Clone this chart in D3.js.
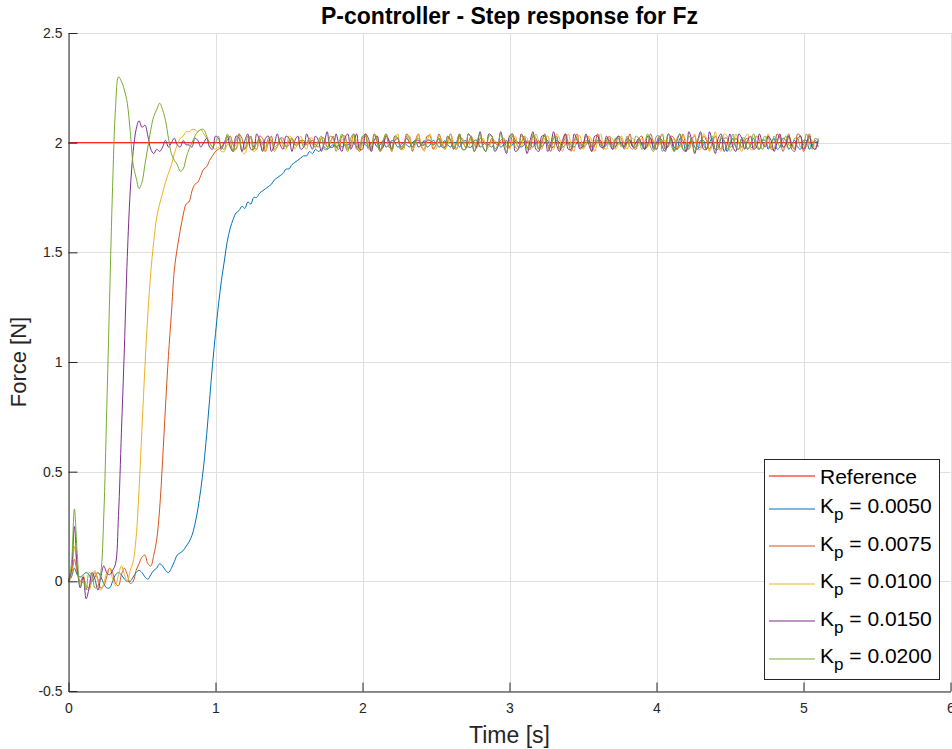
<!DOCTYPE html>
<html><head><meta charset="utf-8">
<script src="https://cdn.jsdelivr.net/npm/d3@7"></script>
<style>
html,body{margin:0;padding:0;background:#fff;}
svg{display:block;font-family:"Liberation Sans",Arial,Helvetica,sans-serif;}
</style></head><body>
<svg id="chart" width="952" height="749"></svg>
<script>
// ---------------- data ----------------
const sampleStep = 0.02; // seconds between samples
const xTicks = [0, 1, 2, 3, 4, 5, 6];
const xTickLabels = ["0", "1", "2", "3", "4", "5", "6"];
const yTicks = [-0.5, 0, 0.5, 1, 1.5, 2, 2.5];
const yTickLabels = ["-0.5", "0", "0.5", "1", "1.5", "2", "2.5"];
const legendNames = ["Reference", "0.0050", "0.0075", "0.0100", "0.0150", "0.0200"];
const referenceTime = [0, 5.1];
const referenceForce = [2, 2];

const kp0050 = [
0,0.02,0.06,0.03,0.02,0.03,0.04,0.03,0.00,0.02,
0.04,0.02,-0.01,-0.03,-0.03,0.00,0.03,0.04,0.03,0.01,
0.00,0.00,0.02,0.04,0.05,0.04,0.02,0.01,0.03,0.05,
0.06,0.08,0.07,0.05,0.04,0.06,0.09,0.12,0.13,0.14,
0.16,0.18,0.21,0.26,0.33,0.42,0.53,0.67,0.83,0.99,
1.13,1.26,1.37,1.46,1.55,1.61,1.65,1.68,1.69,1.71,
1.70,1.73,1.72,1.75,1.75,1.77,1.78,1.79,1.80,1.81,
1.83,1.84,1.85,1.86,1.88,1.88,1.90,1.91,1.92,1.93,
1.94,1.94,1.96,1.95,1.97,1.96,1.97,1.98,1.97,1.98,
1.99,1.98,1.99,1.98,1.99,1.99,
2.00,2.00,1.98,1.99,2.00,1.99,1.98,
2.00,2.00,1.98,1.99,2.01,1.98,1.99,
2.01,2.00,1.98,1.99,2.00,1.99,1.98,
2.00,2.01,1.98,1.99,2.01,1.98,1.99,
2.01,2.00,1.98,1.99,2.01,1.99,1.98,
2.00,2.00,1.98,2.00,2.01,1.98,1.98,
2.01,2.01,1.98,1.99,2.00,1.99,1.98,
2.00,2.00,1.98,1.99,2.01,1.98,1.99,
2.01,2.00,1.98,1.99,2.01,1.99,1.98,
2.00,2.01,1.98,2.00,2.01,1.98,1.98,
2.01,2.00,1.98,1.99,2.00,1.99,1.98,
2.00,2.00,1.98,1.99,2.01,1.98,1.99,
2.01,2.01,1.98,1.99,2.01,1.99,1.98,
2.00,2.00,1.98,2.00,2.01,1.98,1.98,
2.01,2.00,1.97,1.99,2.02,1.98,1.97,
2.02,2.01,1.97,1.99,2.02,1.98,1.97,
2.02,2.01,1.96,1.99,2.02,1.98,1.97,
2.01,2.01,1.97,2.00,2.02,1.97,1.97,
2.02,2.01,1.96,1.99,2.02,1.98,1.97,
2.02,2.00,1.97,1.99,2.02,1.98,1.97,
2.01,2.01,1.97,2.00,2.02,1.97,1.98,
2.02,2.01,1.97,1.99,2.01,1.98,1.97,
2.01,2.01,1.97,1.99,2.01,1.98
];

const kp0075 = [
0,0.03,0.10,0.04,0.00,0.02,-0.02,-0.03,0.01,0.04,
0.01,-0.03,-0.02,0.02,0.06,0.04,-0.01,-0.02,0.03,0.06,
0.03,-0.01,0.00,0.05,0.08,0.11,0.12,0.08,0.07,0.12,
0.19,0.33,0.55,0.80,1.03,1.22,1.42,1.52,1.60,1.67,
1.72,1.73,1.78,1.81,1.82,1.85,1.88,1.89,1.92,1.94,
1.96,1.97,1.98,2.00,2.01,2.03,1.99,
1.97,2.04,2.02,1.97,2.00,2.03,1.98,
1.97,2.03,2.02,1.96,2.00,2.03,1.97,
1.98,2.02,2.02,1.98,1.99,2.02,1.99,
1.99,2.01,2.01,1.99,2.00,2.01,1.99,
1.98,2.02,2.02,1.98,2.00,2.03,1.98,
1.97,2.03,2.03,1.97,1.99,2.04,1.98,
1.96,2.02,2.04,1.98,1.97,2.04,2.00,
1.96,2.00,2.04,2.00,1.96,2.03,2.02,
1.97,1.98,2.04,2.02,1.96,2.01,2.04,
1.98,1.97,2.03,2.03,1.97,1.99,2.04,
2.00,1.97,2.01,2.04,1.98,1.97,2.03,
2.01,1.98,2.00,2.03,1.99,1.98,2.02,
2.01,1.99,1.99,2.02,2.00,1.99,2.01,
2.02,1.98,1.98,2.03,2.01,1.98,2.00,
2.03,1.98,1.97,2.03,2.02,1.97,2.00,
2.04,1.99,1.96,2.02,2.03,1.97,1.99,
2.04,2.00,1.96,2.01,2.04,1.98,1.98,
2.03,2.02,1.96,1.99,2.04,2.00,1.97,
2.01,2.03,1.97,1.98,2.03,2.02,1.97,
2.00,2.04,1.98,1.97,2.02,2.03,1.97,
1.99,2.04,2.00,1.97,2.01,2.04,1.98,
1.98,2.03,2.02,1.97,1.99,2.04,1.99,
1.97,2.02,2.03,1.98,1.98,2.03,2.01,
1.97,2.00,2.03,1.99,1.97,2.02,2.02,
1.98,1.99,2.02,2.00,1.98,2.01,2.02,
1.98,1.98,2.03,2.01,1.97,2.00,2.03,
1.97,1.97,2.04,2.02,1.96,2.00,2.04,
1.97,1.96,2.04,2.03,1.96,1.99,2.04,
1.98,1.97,2.02
];

const kp0100 = [
0,0.03,0.16,0.05,-0.01,0.03,-0.03,-0.04,0.02,0.05,
0.00,-0.04,-0.01,0.04,0.06,0.01,-0.02,0.03,0.07,0.03,
0.00,0.05,0.09,0.20,0.42,0.70,0.98,1.22,1.41,1.55,
1.66,1.72,1.77,1.82,1.86,1.90,1.95,1.99,2.02,2.03,
2.05,2.05,2.06,2.06,2.05,2.06,2.04,2.02,2.00,1.98,1.97,
1.98,1.96,1.96,1.99,1.99,1.96,1.97,
2.00,1.96,1.95,1.99,2.00,1.96,1.97,
2.01,1.97,1.96,2.01,2.01,1.96,1.98,
2.02,1.98,1.97,2.03,2.02,1.97,2.00,
2.03,1.99,1.97,2.02,2.02,1.98,2.00,
2.02,2.00,1.98,2.00,2.02,1.99,1.99,
2.01,2.02,1.98,1.98,2.03,2.01,1.97,
1.99,2.04,1.99,1.96,2.03,2.03,1.96,
1.98,2.04,2.01,1.96,2.01,2.04,1.97,
1.97,2.03,2.03,1.97,1.99,2.04,1.99,
1.96,2.01,2.04,1.98,1.97,2.03,2.01,
1.97,1.99,2.04,2.00,1.97,2.02,2.02,
1.98,1.98,2.02,2.01,1.98,2.00,2.02,
1.99,1.98,2.01,2.01,1.99,1.99,2.02,
2.00,1.97,2.01,2.03,1.98,1.98,2.03,
2.02,1.97,1.98,2.04,2.00,1.97,2.02,
2.03,1.98,1.97,2.04,2.02,1.96,2.00,
2.04,1.99,1.96,2.03,2.03,1.97,1.99,
2.03,2.01,1.96,2.01,2.04,1.98,1.97,
2.02,2.02,1.97,1.99,2.03,2.00,1.97,
2.01,2.02,1.98,1.99,2.02,2.00,1.98,
2.01,2.01,1.99,1.99,2.01,2.01,1.99,
2.00,2.02,1.98,1.98,2.03,2.01,1.97,
2.00,2.04,1.97,1.97,2.04,2.02,1.96,
1.99,2.05,1.98,1.96,2.04,2.03,1.96,
1.98,2.04,2.00,1.96,2.02,2.04,1.97,
1.97,2.03,2.02,1.97,2.00,2.04,1.98,
1.97,2.01,2.03,1.98,1.98,2.03,2.00,
1.98,2.00,2.03,1.99,1.98,2.02,2.01,
1.98,2.00
];

const kp0150 = [
0,0.05,0.25,0.06,-0.03,0.02,-0.08,-0.03,0.04,0.01,
-0.04,0.02,0.07,0.04,0.03,0.05,0.08,0.30,0.68,1.06,
1.48,1.78,1.96,2.06,2.10,2.07,2.08,2.03,1.97,1.95,
1.97,1.96,1.98,2.01,1.98,2.00,2.02,1.99,1.98,2.01,1.99,
1.99,1.98,2.02,2.01,1.98,2.00,2.02,
1.98,1.97,2.03,2.02,1.97,2.00,2.03,
1.98,1.96,2.03,2.02,1.96,2.01,2.04,
1.97,1.97,2.04,2.01,1.96,2.02,2.03,
1.96,1.99,2.04,1.99,1.97,2.03,2.02,
1.96,2.01,2.03,1.97,1.98,2.04,2.00,
1.97,2.03,2.01,1.96,2.00,2.05,1.98,
1.98,2.04,1.99,1.96,2.02,2.04,1.97,
2.00,2.04,1.97,1.97,2.04,2.02,1.96,
2.01,2.03,1.97,1.98,2.03,2.01,1.97,
2.01,2.02,1.98,1.99,2.02,2.00,1.98,
2.01,2.01,1.99,1.99,2.01,2.01,1.99,
2.00,2.02,1.98,1.98,2.03,2.01,1.97,
2.00,2.04,1.97,1.97,2.04,2.02,1.96,
1.99,2.05,1.98,1.96,2.04,2.03,1.96,
1.98,2.05,1.99,1.95,2.03,2.04,1.96,
1.97,2.04,2.01,1.95,2.01,2.05,1.97,
1.96,2.03,2.03,1.96,1.99,2.05,1.99,
1.96,2.01,2.04,1.97,1.97,2.04,2.01,
1.97,1.99,2.04,1.99,1.96,2.03,2.03,
1.98,1.98,2.03,2.00,1.97,2.01,2.03,
1.99,1.98,2.02,2.01,1.98,2.00,2.02,
1.99,1.97,2.03,2.02,1.97,2.00,2.03,
1.98,1.96,2.04,2.02,1.96,2.01,2.04,
1.97,1.96,2.05,2.01,1.95,2.01,2.05,
1.97,1.97,2.05,2.00,1.95,2.02,2.04,
1.96,1.99,2.04,1.98,1.96,2.04,2.02,
1.97,2.01,2.03,1.97,1.98,2.04,2.00,
1.98,2.03,2.01,1.96,2.00,2.04,1.98,
1.99,2.03,1.99,1.97,2.02,2.03,1.97,
2.00,2.03,1.98,1.97,2.01
];

const kp0200 = [
0,0.08,0.33,0.12,-0.02,0.00,-0.04,0.04,0.03,-0.03,
-0.02,0.04,0.30,0.78,1.30,1.80,2.16,2.30,2.28,2.24,
2.18,2.05,1.90,1.84,1.79,1.82,1.90,1.98,2.06,2.12,
2.15,2.18,2.15,2.10,2.02,1.95,1.92,1.90,1.87,1.88,
1.93,1.97,2.00,2.03,2.05,2.06,2.06,2.03,2.00,1.98,
2.00,2.03,1.98,1.97,2.04,2.01,1.96,
2.01,2.04,1.97,1.97,2.03,2.02,1.97,
2.00,2.02,1.99,1.98,2.02,2.01,1.98,
1.99,2.02,2.00,1.98,2.01,2.02,1.99,
2.00,2.01,1.98,2.00,2.02,1.99,1.98,
2.01,2.03,1.97,1.97,2.03,2.02,1.96,
2.00,2.04,1.99,1.96,2.02,2.04,1.97,
1.98,2.03,2.03,1.97,1.98,2.04,2.01,
1.96,2.01,2.04,1.98,1.97,2.03,2.02,
1.97,1.99,2.03,2.00,1.98,2.01,2.02,
1.99,1.99,2.01,2.01,1.99,2.00,2.02,
1.98,1.98,2.03,2.01,1.97,2.00,2.04,
1.97,1.97,2.04,2.02,1.96,2.01,2.04,
1.98,1.96,2.03,2.03,1.97,1.99,2.04,
2.00,1.96,2.01,2.04,1.98,1.97,2.03,
2.02,1.97,1.99,2.04,2.00,1.97,2.01,
2.03,1.99,1.98,2.03,2.02,1.98,1.99,
2.02,2.00,1.98,2.01,2.02,1.99,1.99,
2.01,2.00,1.99,2.01,2.01,1.99,2.00,
2.02,1.99,1.98,2.02,2.02,1.98,1.99,
2.03,1.98,1.97,2.03,2.02,1.97,2.00,
2.04,1.98,1.96,2.03,2.03,1.96,1.99,
2.04,1.99,1.96,2.02,2.04,1.97,1.98,
2.03,2.01,1.96,2.00,2.04,1.99,1.97,
2.02,2.03,1.97,1.98,2.03,2.01,1.97,
2.00,2.04,1.98,1.97,2.02,2.02,1.97,
1.99,2.04,2.00,1.97,2.01,2.03,1.98,
1.98,2.03,2.01,1.98,2.00,2.03,1.99,
1.98,2.02,2.02,1.98,1.99,2.04,2.00,
1.97,2.02,2.01
];

const responseSeries = [kp0050, kp0075, kp0100, kp0150, kp0200];
const referenceColor = "#FF0000";
const seriesColors = ["#0072BD", "#D95319", "#EDB120", "#7E2F8E", "#77AC30"];

// ---------------- drawing ----------------
const svg = d3.select("#chart");
svg.append("rect").attr("width", 952).attr("height", 749).attr("fill", "#fff");

const plotLeft = 68.5, plotRight = 950.5, plotTop = 33, plotBottom = 691;
const x = d3.scaleLinear().domain([0, 6]).range([plotLeft, plotRight]);
const y = d3.scaleLinear().domain([-0.5, 2.5]).range([plotBottom, plotTop]);

// grid
const grid = svg.append("g").attr("stroke", "#dfdfdf").attr("stroke-width", 1);
grid.selectAll("line.gx").data(xTicks).join("line").attr("class", "gx")
  .attr("x1", d => Math.round(x(d)) + 0.5).attr("x2", d => Math.round(x(d)) + 0.5)
  .attr("y1", plotTop).attr("y2", plotBottom);
grid.selectAll("line.gy").data(yTicks).join("line").attr("class", "gy")
  .attr("y1", d => Math.round(y(d)) + 0.5).attr("y2", d => Math.round(y(d)) + 0.5)
  .attr("x1", plotLeft).attr("x2", plotRight);

// lines
const lineGen = d3.line()
  .x((d, i) => x(i * sampleStep))
  .y(d => y(d))
  .curve(d3.curveCatmullRom.alpha(0.5));
const refLine = d3.line().x((d, i) => x(referenceTime[i])).y(d => y(d));

const plot = svg.append("g").attr("fill", "none").attr("stroke-width", 1);
plot.append("path").attr("d", refLine(referenceForce)).attr("stroke", referenceColor);
responseSeries.forEach((s, k) => {
  plot.append("path").attr("d", lineGen(s)).attr("stroke", seriesColors[k])
    .attr("stroke-linejoin", "round");
});

// axes
const axisColor = "#262626";
const xAxis = d3.axisBottom(x).tickValues(xTicks).tickFormat((d, i) => xTickLabels[i])
  .tickSize(-9).tickSizeOuter(0).tickPadding(12);
const yAxis = d3.axisLeft(y).tickValues(yTicks).tickFormat((d, i) => yTickLabels[i])
  .tickSize(-9).tickSizeOuter(0).tickPadding(6);

const gx = svg.append("g").attr("transform", `translate(0,${plotBottom + 0.5})`).call(xAxis);
const gy = svg.append("g").attr("transform", `translate(${plotLeft},0)`).call(yAxis);
[gx, gy].forEach(g => {
  g.select(".domain").attr("stroke", axisColor);
  g.selectAll(".tick line").attr("stroke", axisColor);
  g.selectAll(".tick text").attr("fill", axisColor)
    .style("font-family", '"Liberation Sans",Arial,sans-serif').style("font-size", "14px");
});

// title and labels
const midX = (plotLeft + plotRight) / 2;
svg.append("text").attr("x", midX).attr("y", 24)
  .attr("text-anchor", "middle").attr("font-weight", "bold").attr("font-size", 23)
  .attr("fill", "#000").text("P-controller - Step response for Fz");
svg.append("text").attr("x", midX).attr("y", 743)
  .attr("text-anchor", "middle").attr("font-size", 23).attr("fill", axisColor).text("Time [s]");
svg.append("text").attr("transform", `translate(26,${(plotTop + plotBottom) / 2}) rotate(-90)`)
  .attr("text-anchor", "middle").attr("font-size", 22).attr("fill", axisColor).text("Force [N]");

// legend
const lg = svg.append("g");
lg.append("rect").attr("x", 764.5).attr("y", 459.5).attr("width", 175).attr("height", 220)
  .attr("fill", "#fff").attr("stroke", axisColor).attr("stroke-width", 1);
const legendColors = [referenceColor].concat(seriesColors);
const rowY = k => k === 0 ? 475.5 : 508.5 + (k - 1) * 37.5;
legendNames.forEach((name, k) => {
  const yy = rowY(k);
  lg.append("line").attr("x1", 769).attr("x2", 815)
    .attr("y1", Math.round(yy)).attr("y2", Math.round(yy))
    .attr("stroke", legendColors[k]).attr("stroke-width", 1.2);
  if (k === 0) {
    lg.append("text").attr("x", 820).attr("y", yy + 8).attr("font-size", 21)
      .attr("fill", "#000").text(name);
  } else {
    const t = lg.append("text").attr("x", 820).attr("y", yy + 4.5).attr("font-size", 21).attr("fill", "#000");
    t.append("tspan").text("K");
    t.append("tspan").attr("dy", 7).attr("font-size", 17).text("p");
    t.append("tspan").attr("dy", -7).text(" = " + name);
  }
});
</script>
</body></html>
